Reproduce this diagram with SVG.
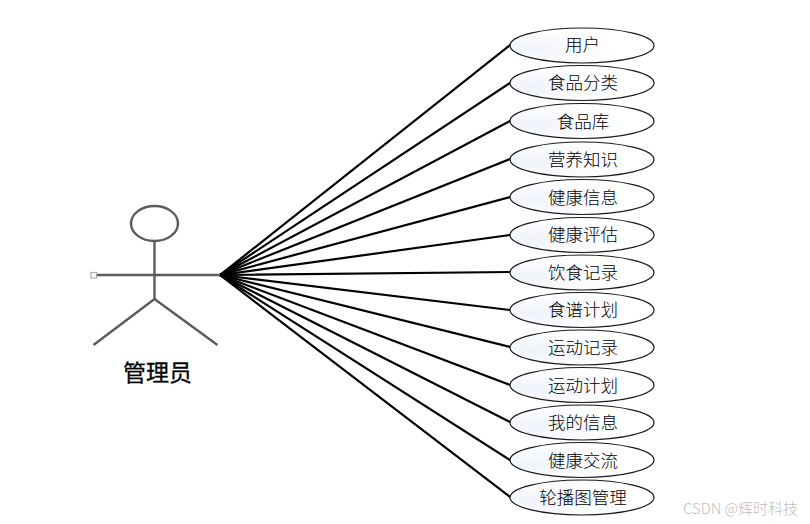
<svg xmlns="http://www.w3.org/2000/svg" width="810" height="524" viewBox="0 0 810 524">
<defs>
<radialGradient id="g" cx="0.15" cy="0.6" r="0.6"><stop offset="0" stop-color="#f0f3fb"/><stop offset="1" stop-color="#ffffff"/></radialGradient>
</defs>
<style>
.u ellipse{fill:url(#g);stroke:#1a1a1a;stroke-width:1.2}
.u text{font:300 17.500px "Noto Sans CJK SC","Noto Sans",sans-serif;fill:#000;text-anchor:middle}
#connectors line{stroke:#000;stroke-width:2.200;stroke-linecap:round}
#actor *{fill:none;stroke:#5c5c5c;stroke-width:2.400}
</style>
<rect width="810" height="524" fill="#fff"/>
<g id="connectors">
<line x1="220" y1="275" x2="510" y2="45"/>
<line x1="220" y1="275" x2="510" y2="83"/>
<line x1="220" y1="275" x2="510" y2="121"/>
<line x1="220" y1="275" x2="510" y2="159"/>
<line x1="220" y1="275" x2="510" y2="197"/>
<line x1="220" y1="275" x2="510" y2="235"/>
<line x1="220" y1="275" x2="510" y2="272"/>
<line x1="220" y1="275" x2="510" y2="310"/>
<line x1="220" y1="275" x2="510" y2="347"/>
<line x1="220" y1="275" x2="510" y2="385"/>
<line x1="220" y1="275" x2="510" y2="422"/>
<line x1="220" y1="275" x2="510" y2="460"/>
<line x1="220" y1="275" x2="510" y2="497"/>
</g>
<g id="actor">
<ellipse cx="154.500" cy="223.500" rx="23.500" ry="17.500"/>
<line x1="154.500" y1="241" x2="154.500" y2="299"/>
<line x1="97" y1="275" x2="220" y2="275"/>
<path d="M93.500 345L154.500 299L217.500 345"/>
<rect x="91" y="272.500" width="5.500" height="5.500" style="stroke:#aaa;stroke-width:1.200;fill:#fff"/>
<text x="157.500" y="381" style="font:400 23px 'Noto Sans CJK SC',sans-serif;fill:#000;stroke:#000;stroke-width:0.300;text-anchor:middle">管理员</text>
</g>
<g id="u1" class="u"><ellipse cx="582" cy="45.500" rx="72" ry="17.500"/><text x="582.500" y="51">用户</text></g>
<g id="u2" class="u"><ellipse cx="582" cy="83" rx="72" ry="17.500"/><text x="583" y="89">食品分类</text></g>
<g id="u3" class="u"><ellipse cx="582" cy="121" rx="72" ry="17.500"/><text x="583" y="127.500">食品库</text></g>
<g id="u4" class="u"><ellipse cx="582" cy="159.500" rx="72" ry="17.500"/><text x="583" y="165.500">营养知识</text></g>
<g id="u5" class="u"><ellipse cx="582" cy="197" rx="72" ry="17.500"/><text x="583" y="203.500">健康信息</text></g>
<g id="u6" class="u"><ellipse cx="582" cy="235" rx="72" ry="17.500"/><text x="583" y="240.500">健康评估</text></g>
<g id="u7" class="u"><ellipse cx="582" cy="272.500" rx="72" ry="17.500"/><text x="583" y="278.500">饮食记录</text></g>
<g id="u8" class="u"><ellipse cx="582" cy="310" rx="72" ry="17.500"/><text x="583" y="316">食谱计划</text></g>
<g id="u9" class="u"><ellipse cx="582" cy="347.500" rx="72" ry="17.500"/><text x="583" y="353.500">运动记录</text></g>
<g id="u10" class="u"><ellipse cx="582" cy="385" rx="72" ry="17.500"/><text x="583" y="391.500">运动计划</text></g>
<g id="u11" class="u"><ellipse cx="582" cy="422.500" rx="72" ry="17.500"/><text x="583" y="428.500">我的信息</text></g>
<g id="u12" class="u"><ellipse cx="582" cy="460" rx="72" ry="17.500"/><text x="583" y="466.500">健康交流</text></g>
<g id="u13" class="u"><ellipse cx="582" cy="497.500" rx="72" ry="17.500"/><text x="583" y="503.500">轮播图管理</text></g>
<text x="683" y="514" style="font:300 15px 'Noto Sans CJK SC',sans-serif;fill:#c0c0c0" textLength="115" lengthAdjust="spacing">CSDN @辉时科技</text>
</svg>
